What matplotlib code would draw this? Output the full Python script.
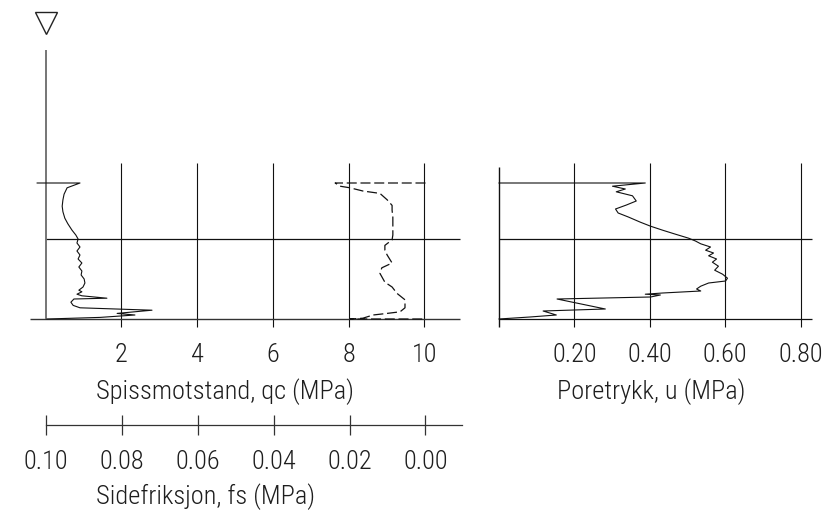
import matplotlib
matplotlib.use('Agg')
import matplotlib.pyplot as plt

plt.rcParams['font.family'] = ['Roboto Condensed', 'Liberation Sans Narrow',
                               'Roboto', 'DejaVu Sans']
plt.rcParams['font.weight'] = 'light'

# ---------------- data ----------------
qc_depth = [0.30, 0.30, 0.36, 0.44, 0.51, 0.59, 0.66, 0.74, 0.81, 0.89, 0.95,
            1.00, 1.05, 1.10, 1.15, 1.20, 1.25, 1.30, 1.35, 1.40, 1.45, 1.50,
            1.55, 1.60, 1.64, 1.66, 1.69, 1.71, 1.74, 1.75, 1.79, 1.83, 1.86,
            1.89, 1.93, 1.95, 1.98, 2.00]
qc_values = [-0.22, 0.91, 0.57, 0.49, 0.46, 0.44, 0.46, 0.51, 0.59, 0.70, 0.80,
             0.86, 0.83, 0.91, 0.83, 0.91, 0.86, 0.96, 0.88, 0.96, 0.94, 1.02,
             1.04, 0.99, 0.88, 0.96, 0.83, 0.96, 1.62, 0.75, 0.67, 0.73, 0.91,
             2.81, 1.89, 2.36, 1.44, 0.04]

fs_depth = [0.30, 0.30, 0.34, 0.36, 0.40, 0.43, 0.51, 0.58, 0.64, 0.73, 0.83,
            0.95, 1.01, 1.08, 1.14, 1.20, 1.30, 1.36, 1.43, 1.54, 1.60, 1.68,
            1.76, 1.86, 1.91, 1.93, 1.95, 1.99, 2.00, 2.00]
fs_values = [0.0, 0.0238, 0.0225, 0.0199, 0.0165, 0.0120, 0.0101, 0.0088,
             0.0088, 0.0086, 0.0086, 0.0086, 0.0088, 0.0107, 0.0107, 0.0101,
             0.0088, 0.0115, 0.0120, 0.0107, 0.0088, 0.0075, 0.0054, 0.0054,
             0.0067, 0.0101, 0.0138, 0.0165, 0.0199, 0.0]

u_depth = [0.30, 0.30, 0.34, 0.375, 0.41, 0.46, 0.525, 0.575, 0.625, 0.675,
           0.725, 0.79, 0.84, 0.89, 0.94, 0.99, 1.025, 1.06, 1.10, 1.14, 1.175,
           1.21, 1.25, 1.29, 1.34, 1.39, 1.44, 1.49, 1.525, 1.55, 1.59, 1.625,
           1.65, 1.675, 1.69, 1.70, 1.725, 1.75, 1.875, 1.90, 1.95, 1.975, 2.0]
u_values = [0.0, 0.388, 0.301, 0.335, 0.311, 0.354, 0.364, 0.338, 0.309, 0.316,
            0.343, 0.375, 0.402, 0.434, 0.468, 0.503, 0.521, 0.535, 0.561, 0.548,
            0.569, 0.556, 0.577, 0.566, 0.582, 0.572, 0.593, 0.606, 0.601, 0.556,
            0.535, 0.524, 0.535, 0.434, 0.388, 0.428, 0.402, 0.154, 0.282, 0.117,
            0.152, 0.082, 0.0]

qc_ticks = [2, 4, 6, 8, 10]
fs_ticks = [0.10, 0.08, 0.06, 0.04, 0.02, 0.00]
u_ticks = [0.20, 0.40, 0.60, 0.80]
grid_depths = [1.0, 2.0]
water_level = -1.70

# ---------------- figure ----------------
W, H = 824, 516
fig = plt.figure(figsize=(W / 100, H / 100), dpi=100)


def box(x0, y0, x1, y1):
    return [x0 / W, 1 - y1 / H, (x1 - x0) / W, (y1 - y0) / H]


TXT = '#1e1e1e'
LINE = '#111111'
FS = 19

# left panel (qc)
ax1 = fig.add_axes(box(30, 10, 462, 330))
ax1.set_xlim(-0.409, 10.99)
ax1.set_ylim(2.1375, -1.8625)
for s in ax1.spines.values():
    s.set_visible(False)
ax1.set_yticks([])
ax1.set_xticks(qc_ticks)
ax1.set_xticklabels([str(t) for t in qc_ticks], fontsize=FS, color=TXT)
ax1.tick_params(axis='x', length=0, pad=9)

ax1.vlines(qc_ticks, 0.05, 2.10, color=LINE, lw=0.8)
ax1.hlines(grid_depths[0], 0, 10.95, color=LINE, lw=0.9)
ax1.hlines(grid_depths[1], -0.40, 10.95, color='#333333', lw=1.0)
ax1.vlines(0, -1.36, 2.0, color='#6a6a6a', lw=1.3)
ax1.plot([0], [water_level], marker='v', ms=16, mfc='none', mec='#222222',
         mew=1.0, clip_on=False)
ax1.plot(qc_values, qc_depth, color='#111111', lw=0.8)

# fs trace on a twin x axis
ax2 = ax1.twiny()
ax2.set_xlim(0.1042, -0.00962)
ax2.set_ylim(2.1375, -1.8625)
for s in ax2.spines.values():
    s.set_visible(False)
ax2.set_xticks([])
ax2.plot(fs_values, fs_depth, color='#111111', lw=0.9, ls=(0, (8, 3)))

# fs scale bar
axs = fig.add_axes(box(46, 423.5, 462, 424.5))
axs.set_xlim(0.10, -0.00962)
axs.set_yticks([])
for k in ['top', 'left', 'right']:
    axs.spines[k].set_visible(False)
axs.spines['bottom'].set_color('#333333')
axs.spines['bottom'].set_linewidth(0.9)
axs.set_xticks(fs_ticks)
axs.set_xticklabels([f'{t:.2f}' for t in fs_ticks], fontsize=FS, color=TXT)
axs.tick_params(axis='x', direction='inout', length=15, width=0.9,
                color='#333333', pad=11)
axs.patch.set_visible(False)

fig.text(225 / W, 1 - 392 / H, 'Spissmotstand, qc (MPa)', fontsize=FS,
         color=TXT, ha='center', va='center')
fig.text(206 / W, 1 - 497 / H, 'Sidefriksjon, fs (MPa)', fontsize=FS,
         color=TXT, ha='center', va='center')

# right panel (u)
ax3 = fig.add_axes(box(490, 10, 824, 330))
ax3.set_xlim(-0.0239, 0.862)
ax3.set_ylim(2.1375, -1.8625)
for s in ax3.spines.values():
    s.set_visible(False)
ax3.set_yticks([])
ax3.set_xticks(u_ticks)
ax3.set_xticklabels([f'{t:.2f}' for t in u_ticks], fontsize=FS, color=TXT)
ax3.tick_params(axis='x', length=0, pad=9)
ax3.vlines(u_ticks, 0.05, 2.10, color=LINE, lw=0.8)
ax3.vlines(0, 0.10, 2.10, color=LINE, lw=1.0)
ax3.hlines(grid_depths, 0, 0.83, color=LINE, lw=0.9)
ax3.plot(u_values, u_depth, color='#111111', lw=0.8)

fig.text(651 / W, 1 - 392 / H, 'Poretrykk, u (MPa)', fontsize=FS,
         color=TXT, ha='center', va='center')

fig.savefig('out.png', dpi=100, facecolor='white')
